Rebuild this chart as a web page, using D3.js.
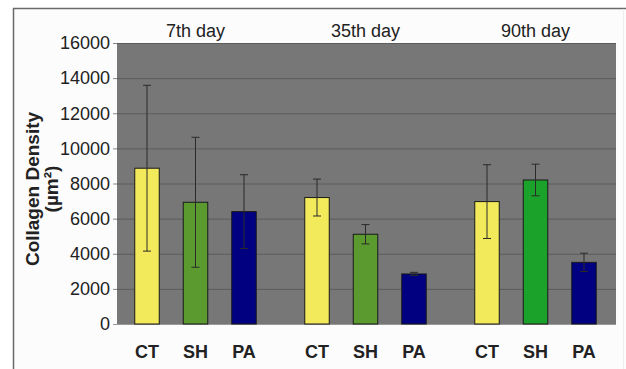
<!DOCTYPE html>
<html><head><meta charset="utf-8">
<script src="https://cdn.jsdelivr.net/npm/d3@7"></script>
<style>html,body{margin:0;padding:0;background:#fff;}svg{display:block;}</style>
</head><body>
<svg id="c" width="626" height="369"></svg>
<script>
const groups = ["7th day", "35th day", "90th day"];
const treatments = ["CT", "SH", "PA"];
const means = [[8870, 6930, 6400], [7200, 5110, 2850], [6970, 8200, 3510]];
const errors = [[4720, 3700, 2100], [1050, 550, 90], [2100, 900, 520]];
const yTicks = [0, 2000, 4000, 6000, 8000, 10000, 12000, 14000, 16000];
const barColors = [["#f2ea5a", "#5a9a2e", "#000080"], ["#f2ea5a", "#5a9a2e", "#000080"], ["#f2ea5a", "#1aa22a", "#000080"]];

const FONT = "Liberation Sans, Arial, sans-serif";
const svg = d3.select("#c");
const plot = {l: 117, r: 616, t: 43, b: 324};

// outer frame
svg.append("rect").attr("x", 13.5).attr("y", 8.5).attr("width", 640).attr("height", 400)
  .attr("fill", "#fcfcfc").attr("stroke", "#6a6a6a").attr("stroke-width", 1.5);
svg.append("line").attr("x1", 623.5).attr("x2", 623.5).attr("y1", 9).attr("y2", 369).attr("stroke", "#eeeeee");

const y = d3.scaleLinear().domain([0, 16000]).range([plot.b, plot.t]);
const gx = d3.scaleBand().domain(groups).range([110.5, 620.5]);
const ix = d3.scalePoint().domain(treatments).range([-48.5, 48.5]);
const bw = 24.5;

svg.append("rect").attr("x", plot.l).attr("y", plot.t).attr("width", plot.r - plot.l).attr("height", plot.b - plot.t)
  .attr("fill", "#777777");

// gridlines
svg.append("g").selectAll("line").data(yTicks.filter(d => d > 0)).join("line")
  .attr("x1", plot.l).attr("x2", plot.r).attr("y1", d => y(d) + 0.5).attr("y2", d => y(d) + 0.5)
  .attr("stroke", "#5c5c5c").attr("stroke-width", 1);

// y axis
const yAxis = svg.append("g").attr("transform", `translate(${plot.l},0)`)
  .call(d3.axisLeft(y).tickValues(yTicks).tickSize(4).tickPadding(3).tickFormat(d3.format("d")));
yAxis.select(".domain").remove();
yAxis.selectAll(".tick line").attr("stroke", "#888");
yAxis.selectAll(".tick text").attr("font-family", FONT).attr("font-size", 18).attr("fill", "#222");

// baseline
svg.append("line").attr("x1", plot.l - 4).attr("x2", plot.r).attr("y1", plot.b + 0.5).attr("y2", plot.b + 0.5).attr("stroke", "#999");

// bars
groups.forEach((g, gi) => {
  const gc = gx(g) + gx.bandwidth() / 2;
  treatments.forEach((t, ti) => {
    const cx = gc + ix(t);
    const v = means[gi][ti], e = errors[gi][ti];
    svg.append("rect").attr("x", cx - bw / 2).attr("y", y(v)).attr("width", bw).attr("height", y(0) - y(v))
      .attr("fill", barColors[gi][ti]).attr("stroke", "#1a1a1a").attr("stroke-width", 1);
    const eg = svg.append("g").attr("stroke", "#2a2a2a").attr("stroke-width", 1);
    eg.append("line").attr("x1", cx).attr("x2", cx).attr("y1", y(v + e)).attr("y2", y(v - e));
    eg.append("line").attr("x1", cx - 4).attr("x2", cx + 4).attr("y1", y(v + e)).attr("y2", y(v + e));
    eg.append("line").attr("x1", cx - 4).attr("x2", cx + 4).attr("y1", y(v - e)).attr("y2", y(v - e));
    svg.append("text").attr("x", cx).attr("y", 358).attr("text-anchor", "middle")
      .attr("font-family", FONT).attr("font-size", 18).attr("font-weight", "bold")
      .attr("fill", "#222").text(t);
  });
  svg.append("text").attr("x", gc).attr("y", 37).attr("text-anchor", "middle")
    .attr("font-family", FONT).attr("font-size", 18).attr("fill", "#222").text(g);
});

// y title
const yt = svg.append("text").attr("transform", "translate(39,189) rotate(-90)").attr("text-anchor", "middle")
  .attr("font-family", FONT).attr("font-size", 19).attr("font-weight", "bold").attr("fill", "#222");
yt.append("tspan").attr("x", 0).attr("dy", 0).text("Collagen Density");
yt.append("tspan").attr("x", 0).attr("dy", 19).text("(µm²)");
</script>
</body></html>
